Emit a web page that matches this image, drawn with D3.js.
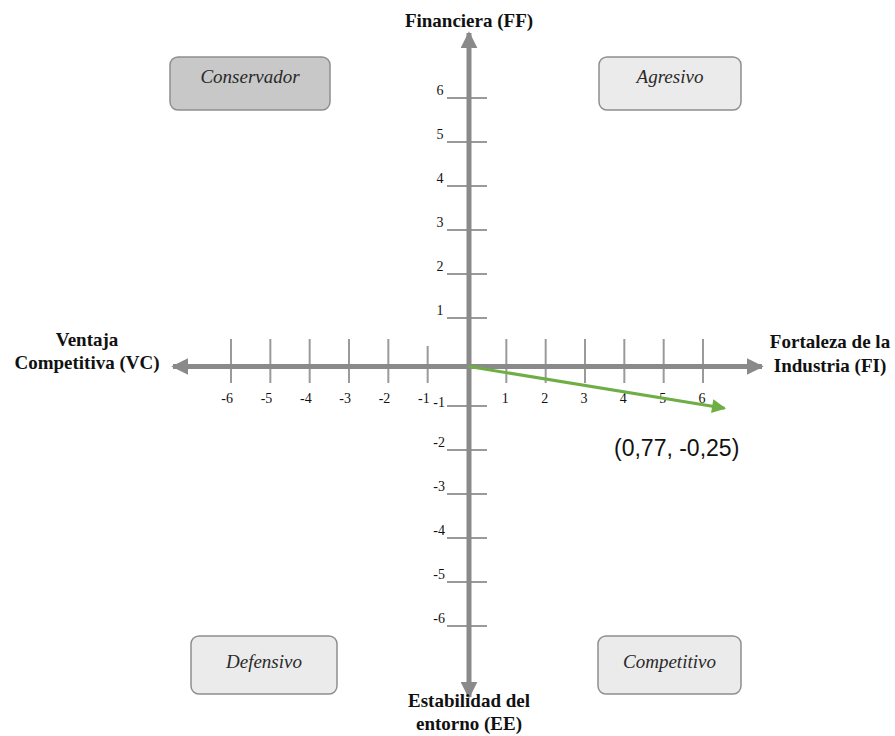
<!DOCTYPE html>
<html><head><meta charset="utf-8">
<script src="https://cdn.jsdelivr.net/npm/d3@7"></script>
<style>body{margin:0;background:#fff}svg{display:block}
.serif{font-family:"Liberation Serif","Times New Roman","DejaVu Serif",serif}
.sans{font-family:"Liberation Sans",Arial,sans-serif}</style>
</head><body>
<svg id="c" width="895" height="736"></svg>
<script>
const xTicks = [-6,-5,-4,-3,-2,-1,1,2,3,4,5,6];
const yTicks = [6,5,4,3,2,1,-1,-2,-3,-4,-5,-6];
const quadrants = [
  {name:"Conservador", qx:-1, qy:1, dark:true},
  {name:"Agresivo", qx:1, qy:1, dark:false},
  {name:"Defensivo", qx:-1, qy:-1, dark:false},
  {name:"Competitivo", qx:1, qy:-1, dark:false}
];
const axisTitles = {
  top:["Financiera (FF)"],
  left:["Ventaja","Competitiva (VC)"],
  right:["Fortaleza de la","Industria (FI)"],
  bottom:["Estabilidad del","entorno (EE)"]
};
const vectorEnd = [6.55, -1.05];
const pointLabel = "(0,77, -0,25)";

const svg = d3.select("#c");
const x = d3.scaleLinear().domain([-6,6]).range([231,703]);
const y = d3.scaleLinear().domain([-6,6]).range([626,98]);
const ax0 = x(0)+2, ay0 = y(0)+4.5;
const gray = "#8a8a8a";

const defs = svg.append("defs");
defs.append("marker").attr("id","ga").attr("viewBox","0 0 10 10").attr("refX",9).attr("refY",5)
  .attr("markerWidth",17).attr("markerHeight",17).attr("markerUnits","userSpaceOnUse").attr("orient","auto")
  .append("path").attr("d","M0,0L10,5L0,10Z").attr("fill",gray);
defs.append("marker").attr("id","gr").attr("viewBox","0 0 10 10").attr("refX",9).attr("refY",5)
  .attr("markerWidth",16).attr("markerHeight",14).attr("markerUnits","userSpaceOnUse").attr("orient","auto")
  .append("path").attr("d","M0,0L10,5L0,10Z").attr("fill","#6fae45");

const boxPos = {
  "-1,1":{x:170,y:57,w:160,h:53,ty:83},
  "1,1":{x:599,y:57,w:142,h:53,ty:83},
  "-1,-1":{x:191,y:636,w:146,h:58,ty:668},
  "1,-1":{x:598,y:636,w:143,h:58,ty:668}
};
quadrants.forEach(q=>{
  const b = boxPos[q.qx+","+q.qy];
  svg.append("rect").attr("x",b.x).attr("y",b.y).attr("width",b.w).attr("height",b.h)
    .attr("rx",8).attr("fill",q.dark?"#c8c8c8":"#ebebeb").attr("stroke","#8f8f8f").attr("stroke-width",1.5);
  svg.append("text").attr("class","serif").attr("x",b.x+b.w/2).attr("y",b.ty).attr("text-anchor","middle")
    .style("font-style","italic").style("font-size","19px").attr("fill","#2a2a2a")
    .text(q.name);
});

svg.append("g").selectAll("line").data(xTicks).join("line")
  .attr("x1",d=>x(d)).attr("x2",d=>x(d))
  .attr("y1",d=>d===-1?346:339).attr("y2",383)
  .attr("stroke","#9a9a9a").attr("stroke-width",2);
svg.append("g").selectAll("text").data(xTicks).join("text").attr("class","serif")
  .attr("x",d=>d<0?x(d)+2:x(d)-1).attr("y",403)
  .attr("text-anchor",d=>d<0?"end":"middle")
  .style("font-size","14px").attr("fill","#111").text(d=>d);

svg.append("g").selectAll("line").data(yTicks).join("line")
  .attr("x1",447).attr("x2",487).attr("y1",d=>y(d)).attr("y2",d=>y(d))
  .attr("stroke","#9a9a9a").attr("stroke-width",2);
svg.append("g").selectAll("text").data(yTicks).join("text").attr("class","serif")
  .attr("x",d=>d<0?445:440).attr("y",d=>d===-1?y(d)+1:y(d)-3)
  .attr("text-anchor",d=>d<0?"end":"middle")
  .style("font-size","14px").attr("fill","#111").text(d=>d);

svg.append("line").attr("x1",ax0).attr("y1",ay0).attr("x2",173).attr("y2",ay0)
  .attr("stroke",gray).attr("stroke-width",5).attr("marker-end","url(#ga)");
svg.append("line").attr("x1",ax0).attr("y1",ay0).attr("x2",762).attr("y2",ay0)
  .attr("stroke",gray).attr("stroke-width",5).attr("marker-end","url(#ga)");
svg.append("line").attr("x1",ax0).attr("y1",ay0).attr("x2",ax0).attr("y2",33)
  .attr("stroke",gray).attr("stroke-width",5).attr("marker-end","url(#ga)");
svg.append("line").attr("x1",ax0).attr("y1",ay0).attr("x2",ax0).attr("y2",697)
  .attr("stroke",gray).attr("stroke-width",5).attr("marker-end","url(#ga)");

svg.append("line").attr("x1",ax0).attr("y1",ay0)
  .attr("x2",x(vectorEnd[0])).attr("y2",y(vectorEnd[1]))
  .attr("stroke","#6fae45").attr("stroke-width",3).attr("marker-end","url(#gr)");
svg.append("text").attr("class","sans").attr("x",614).attr("y",456)
  .style("font-size","23px").attr("fill","#111").text(pointLabel);

function title(lines, cx, y0, dy){
  const t = svg.append("text").attr("class","serif").attr("text-anchor","middle")
    .style("font-weight","bold").style("font-size","19px").attr("fill","#111");
  lines.forEach((l,i)=>t.append("tspan").attr("x",cx).attr("y",y0+i*dy).text(l));
}
title(axisTitles.top, ax0, 27, 0);
title(axisTitles.left, 87, 346, 23);
title(axisTitles.right, 830, 348, 24);
title(axisTitles.bottom, ax0, 707, 23);
</script>
</body></html>
